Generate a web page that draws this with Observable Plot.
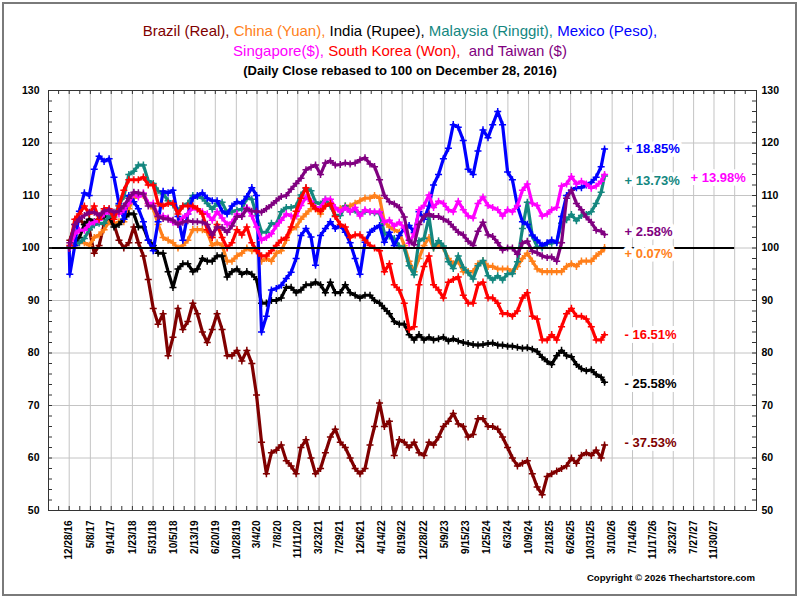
<!DOCTYPE html>
<html>
<head>
<meta charset="utf-8">
<script src="https://cdn.jsdelivr.net/npm/d3@7"></script>
<script src="https://cdn.jsdelivr.net/npm/@observablehq/plot@0.6"></script>
<style>
  body { margin: 0; background: #fff; font-family: "Liberation Sans", Arial, sans-serif; }
  #page { position: relative; width: 800px; height: 600px; overflow: hidden; }
  #border { position: absolute; left: 2px; top: 2px; width: 791px; height: 590px; border: 2px solid #7a7a7a; }
  #title { position: absolute; left: 0; top: 21px; width: 800px; text-align: center; }
  .l1 { font-size: 15px; line-height: 20px; white-space: pre; }
  .l3 { font-size: 13px; line-height: 20px; font-weight: bold; color: #000; }
  #chart { position: absolute; left: 0; top: 80px; }
  #copy { position: absolute; right: 45px; top: 572px; font-size: 9.6px; font-weight: bold; line-height: 12px; color: #000; }
</style>
</head>
<body>
<div id="page">
  <div id="border"></div>
  <div id="title"></div>
  <div id="chart"></div>
  <div id="copy">Copyright © 2026 Thechartstore.com</div>
</div>
<script>
// ---------- data ----------
const dates = ["2016-12-28",
 "2017-01","2017-02","2017-03","2017-04","2017-05","2017-06","2017-07","2017-08","2017-09","2017-10","2017-11","2017-12",
 "2018-01","2018-02","2018-03","2018-04","2018-05","2018-06","2018-07","2018-08","2018-09","2018-10","2018-11","2018-12",
 "2019-01","2019-02","2019-03","2019-04","2019-05","2019-06","2019-07","2019-08","2019-09","2019-10","2019-11","2019-12",
 "2020-01","2020-02","2020-03","2020-04","2020-05","2020-06","2020-07","2020-08","2020-09","2020-10","2020-11","2020-12",
 "2021-01","2021-02","2021-03","2021-04","2021-05","2021-06","2021-07","2021-08","2021-09","2021-10","2021-11","2021-12",
 "2022-01","2022-02","2022-03","2022-04","2022-05","2022-06","2022-07","2022-08","2022-09","2022-10","2022-11","2022-12",
 "2023-01","2023-02","2023-03","2023-04","2023-05","2023-06","2023-07","2023-08","2023-09","2023-10","2023-11","2023-12",
 "2024-01","2024-02","2024-03","2024-04","2024-05","2024-06","2024-07","2024-08","2024-09","2024-10","2024-11","2024-12",
 "2025-01","2025-02","2025-03","2025-04","2025-05","2025-06","2025-07","2025-08","2025-09","2025-10","2025-11","2025-12",
 "2026-01","2026-01-22"];

const brazil = [100,
 101.5,104.5,105.5,104.5,103.5,99,100.5,104.5,105.5,104.5,
 101.5,100,101,104,101,98.5,94,88.5,85.5,87.5,
 79.5,83,88.5,84.5,86,89.5,87.5,84,82,84.5,
 87.5,84.5,79.5,79.5,80.5,78.5,80.5,78,72,63,
 57,61,61.5,62.5,59.5,58.5,57,62,63.5,60,
 57,58,61,64,65.5,63,62,60,58,57,
 58,62.5,66,70.5,66,67,60.5,63.5,63,62,
 63,61,60.5,63,62.5,64,66,67,68.5,66.5,
 66,64,64.5,67.5,67.5,66,66,65.5,64,62,
 60,58.5,59,59.5,57,54.5,53,56.5,57,57.5,
 58,58.5,60,59,60.5,61,60.5,61.5,60,
 62.47];

const china = [100,
 100,101,101,101,100.5,102,102.5,103.5,105,104.5,
 105,105,107.5,109.5,110,110,108.5,107.5,104.5,102,
 101.5,101,100,100.5,101.5,103.5,103.5,103.5,103,100.5,
 101,100.5,97.5,97.5,98.5,99,100,99.5,99.5,97.5,
 98,97.5,99,99.5,101.5,103.5,104,105.5,106.5,107.5,
 107.5,106.5,108,108.5,107.5,107.5,108,108,108.5,109,
 109.5,109.5,110,109.5,105,104,103.5,103,100.5,97.5,
 95.5,98,100.5,102,100,100.5,100,98,97,97.5,
 95.5,95.5,95.5,97,97.5,96.5,96.5,96,96,96,
 95.5,96.5,98,99,97.5,96,95.5,95.5,95.5,95.5,
 95.5,96.5,97,96.5,97.5,97.5,97.5,98.5,99.3,
 100.07];

const india = [100,
 100,100.5,102,104.5,105.5,105,105.5,106,106,104,
 104.5,105.5,106.5,106.5,104,104,101.5,100.5,99,99,
 95.5,92.5,96,97,97,95.5,96,98,97.5,97.5,
 98.5,98.5,94.5,95.5,96,95,95.5,95,94,89.5,
 89.5,90,90,90.5,92.5,92.5,91.5,92,93,93,
 93.5,93,91.5,93.5,91.5,91.5,93,91.5,91,90.5,
 91,91,90,89.5,88.5,87.5,86,85.5,85.5,83.5,
 82.5,83.5,82.5,83,82.5,82.7,83,82.3,82.7,82.3,
 82,81.8,81.6,81.5,81.6,81.8,81.9,81.5,81.5,81.3,
 81.3,81.1,80.9,81,80.7,80.3,79.2,78.4,77.8,79.5,
 80.5,79.5,79.3,77.8,77,76.6,76.8,75.9,75.4,
 74.42];

const malaysia = [100,
 100.3,100.9,101,101.8,103.5,104.4,104.7,104.7,106.2,105.9,
 108.2,109.8,114,114.6,115.8,115.8,112.8,112.3,110.9,110.3,
 109,108.2,107.2,108,108.5,110,109.8,109.5,108.5,107.4,
 108.5,108.7,106.7,106.9,107.2,107.4,109.5,109.3,106.2,103,
 103,104.7,104.5,106.9,107.7,107.7,108,110.1,111.4,110.9,
 108.7,108.4,109.3,108,106.2,106.2,108,106.9,107.2,106.4,
 107,106.9,106.7,106.7,102.8,102.3,101.8,100.4,100,96.6,
 94.9,101.4,101.8,105.9,100,101.4,100.4,97.4,96.1,98.5,
 96.3,95.3,94.1,96.6,97.6,94.7,93.9,94.7,93.9,95.1,
 95.1,97.4,103.7,108.7,102.3,100.2,100,100.9,100.9,101.1,
 104.7,105.4,106.4,105.2,106.2,106.4,106.9,108.5,110.6,
 113.73];

const mexico = [100,
 95,100.5,107,110.5,110,115,117.5,116.5,117,113.5,
 108.5,105.5,110,108.8,107.5,105,101.5,99.5,105,110.8,
 110.5,111,106,101.5,106.5,109.5,110,110.5,109.5,109,
 109,107,106.5,108,108.8,108.5,109.8,111.5,110,84,
 87,92,92.3,92.9,94.2,95.4,98,102.4,103.7,102.1,
 96.7,102.4,103.7,105,103.7,104.3,103,101,98,95,
 101.1,103,103.7,104.3,101.1,103,100.5,102.4,103.7,104.3,
 103,106.9,105.5,108,112,114,117,119,123.5,123,
 120.5,115,114,118.5,122.5,121,123.5,126,123.5,114.5,
 113,108,105,104.5,102.5,101.5,100.5,101,101.5,101,
 106,110,111,111.5,111.5,112,112.5,113.5,115.5,
 118.85];

const singapore = [100,
 100.1,102.7,103.4,103.4,104.5,104.9,105.3,106.5,106.9,106.5,
 106.5,107.3,108.5,110.5,109.7,110.5,108.5,108.5,106.1,106.1,
 105.7,104.9,104.5,105.7,106.5,107.7,107.3,106.9,106.5,105.3,
 106.9,105.7,104.5,104.9,106.5,106.1,107.7,106.1,104,101.5,
 102,102.7,104.2,105.3,106.5,106.1,106.1,108.1,109.7,108.9,
 107.7,107.7,109.3,109.3,107.7,106.9,107.7,106.9,107.7,106.1,
 107.3,106.9,106.9,106.9,104.9,105.3,104.2,104.9,103.8,100.9,
 102.7,107.3,108.1,110.1,107.7,108.9,108.5,107.3,106.9,108.9,
 107.3,106.1,105.7,108.5,109.7,108.1,107.7,107.3,106.1,107.3,
 106.9,108.1,111,112.2,108.5,108.1,106.1,106.5,107.3,107.7,
 111.8,112.2,113.6,112.2,112.7,112.2,111.4,111.8,112.7,
 113.98];

const korea = [100,
 100.5,105.5,106.5,108,106.5,108,105.5,107.5,107.5,105.5,
 108,111,113,113,113,113.5,112,112,108.5,108,
 108.5,108.5,106.5,108,108,108,107.5,106.5,103.5,102,
 104.5,102,100,101,103.5,102.5,104,101,99.5,98.5,
 98.5,99.5,100.5,101.5,102,104,107,109.5,111.5,108.5,
 107.5,107,108,108.5,106,104.5,104,102,102.5,102.5,
 101.5,100.5,100,99.5,95.5,97,93,92,89.5,84.5,
 85,93,96.5,98.5,93,92,90.5,93.5,94,94.5,
 91,89.5,89.5,93,93.5,90.5,90.5,89.5,87.5,87.5,
 87,88,90.5,91.5,87,86.5,82.5,82.5,83.5,82.5,
 85,87.5,88.5,87,87,86.5,85,82.5,82.5,
 83.49];

const taiwan = [100,
 101,104.5,105.5,106.2,106.8,106.8,106.2,107,107.3,106.8,
 107,108,109.5,110.6,110.5,110.3,108,108,106,105.6,
 105.5,105.3,104.5,104.9,105.2,105,105,104.9,104.5,102.5,
 104,103.9,103,104.2,106,106,107.5,107,107,106.8,
 107.5,108.2,109,109.8,110,111.2,112.3,113.3,114.9,115.4,
 115.8,114,116.2,116.6,115.8,115.9,116.2,116,116.2,116.8,
 117.2,116,115.5,113,110,108.8,108.4,107.7,105.9,101.5,
 100.6,104.5,106,106.5,106,106,105.5,105,104,103,
 102.5,101.3,100.5,103.2,104.9,102.5,102.2,101,99.6,100,
 100,98.8,100.9,101.3,99.4,99.1,98.5,98.2,98.3,97.5,
 101,109.5,111,108.5,107.3,105.9,104.9,103.4,103.2,
 102.58];

const names  = ["Brazil", "China", "India", "Malaysia", "Mexico", "Singapore", "South Korea", "Taiwan"];
const values = [brazil, china, india, malaysia, mexico, singapore, korea, taiwan];
const endLabels = ["- 37.53%", "+ 0.07%", "- 25.58%", "+ 13.73%", "+ 18.85%", "+ 13.98%", "- 16.51%", "+ 2.58%"];
const titleLine1 = ["Brazil (Real),", "China (Yuan),", "India (Rupee),", "Malaysia (Ringgit),", "Mexico (Peso),"];
const titleLine2 = ["Singapore($),", "South Korea (Won),", " and Taiwan ($)"];
const subtitle = "(Daily Close rebased to 100 on December 28, 2016)";

const yTicks = [50, 60, 70, 80, 90, 100, 110, 120, 130];
const baseline = 100;
const labelDates = ["2016-12-28","2017-05-08","2017-09-14","2018-01-23","2018-05-31","2018-10-05","2019-02-13","2019-06-20",
 "2019-10-28","2020-03-04","2020-07-08","2020-11-11","2021-03-23","2021-07-29","2021-12-06","2022-04-14","2022-08-19",
 "2022-12-28","2023-05-09","2023-09-15","2024-01-25","2024-06-03","2024-10-09","2025-02-18","2025-06-26","2025-10-31",
 "2026-03-10","2026-07-14","2026-11-17","2027-03-23","2027-07-27","2027-11-30"];
const extraGrid = ["2028-04-06"];
const xDomainDates = ["2016-08-22", "2028-08-19"];

// ---------- styles ----------
const colors = ["#800000", "#FF7F1A", "#000000", "#14877F", "#0000FF", "#FF00FF", "#FF0000", "#800080"];
const nudges = [[20, -2], [20, 6], [20, 2], [20, 5], [20, 0], [86, 3], [20, 0], [20, -3]];

// ---------- build ----------
const parse = s => new Date(s);
const dateObjs = dates.map(parse);
const gridDates = labelDates.concat(extraGrid).map(parse);
const xDomain = xDomainDates.map(parse);
const halfTicks = [];
for (let i = 0; i < gridDates.length - 1; i++) {
  halfTicks.push(new Date((+gridDates[i] + +gridDates[i + 1]) / 2));
}
halfTicks.unshift(new Date(+gridDates[0] - (+gridDates[1] - +gridDates[0]) / 2));
halfTicks.push(new Date(+gridDates[gridDates.length - 1] + (+gridDates[1] - +gridDates[0]) / 2));
const xTickAll = gridDates.concat(halfTicks);
const yMinor = d3.range(yTicks[0], yTicks[yTicks.length - 1] + 1, 2);

const W = 800, H = 500, mT = 10, mB = 70, mL = 48, mR = 44;
const innerW = W - mL - mR, innerH = H - mT - mB;
const fmt = d3.utcFormat("%-m/%-d/%y");

const seriesMarks = names.flatMap((name, i) => {
  const rows = dateObjs.map((d, j) => ({date: d, value: values[i][j]}));
  return [
    Plot.line(rows, {x: "date", y: "value", stroke: colors[i], strokeWidth: 3.2, strokeLinejoin: "round"}),
    Plot.dot(rows, {x: "date", y: "value", stroke: colors[i], symbol: "plus", r: 2.4, strokeWidth: 1.5})
  ];
});

const labelMarks = names.map((name, i) => {
  const last = [{date: dateObjs[dateObjs.length - 1], value: values[i][values[i].length - 1], label: endLabels[i]}];
  return Plot.text(last, {x: "date", y: "value", text: "label", fill: colors[i], textAnchor: "start",
    dx: nudges[i][0], dy: nudges[i][1], fontSize: 13, fontWeight: "bold", stroke: "white", strokeWidth: 8});
});

const chart = Plot.plot({
  width: W, height: H,
  marginTop: mT, marginBottom: mB, marginLeft: mL, marginRight: mR,
  style: {fontFamily: "'Liberation Sans', Arial, sans-serif", background: "transparent", color: "#000", overflow: "visible"},
  x: {type: "utc", domain: xDomain, label: null},
  y: {domain: [yTicks[0], yTicks[yTicks.length - 1]], label: null},
  marks: [
    Plot.gridY({ticks: yTicks, stroke: "#c4c4c4", strokeOpacity: 1}),
    Plot.gridX({ticks: gridDates, stroke: "#c4c4c4", strokeOpacity: 1}),
    ...seriesMarks,
    Plot.ruleY([baseline], {x1: xDomain[0], x2: gridDates[gridDates.length - 1], stroke: "#000", strokeWidth: 2}),
    // inward ticks
    Plot.tickY(yMinor, {y: d => d, insetRight: innerW - 4, stroke: "#333"}),
    Plot.tickY(yMinor, {y: d => d, insetLeft: innerW - 4, stroke: "#333"}),
    Plot.tickX(xTickAll, {x: d => d, insetTop: innerH - 4, stroke: "#333"}),
    Plot.tickX(xTickAll, {x: d => d, insetBottom: innerH - 4, stroke: "#333"}),
    Plot.frame({stroke: "#333"}),
    Plot.axisY({ticks: yTicks, anchor: "left", tickSize: 0, tickPadding: 9, fontSize: 10.5, fontWeight: "bold", tickFormat: d3.format("d")}),
    Plot.axisY({ticks: yTicks, anchor: "right", tickSize: 0, tickPadding: 5, fontSize: 10.5, fontWeight: "bold", tickFormat: d3.format("d")}),
    Plot.axisX({ticks: labelDates.map(parse), anchor: "bottom", tickSize: 0, tickPadding: 10, tickRotate: -90, fontSize: 10, fontWeight: "bold", tickFormat: fmt}),
    ...labelMarks
  ]
});
document.getElementById("chart").appendChild(chart);

// ---------- title ----------
const title = document.getElementById("title");
const l1 = document.createElement("div"); l1.className = "l1";
titleLine1.forEach((t, i) => {
  const s = document.createElement("span"); s.textContent = t; s.style.color = colors[i];
  l1.appendChild(s); if (i < titleLine1.length - 1) l1.appendChild(document.createTextNode(" "));
});
const l2 = document.createElement("div"); l2.className = "l1";
titleLine2.forEach((t, i) => {
  const s = document.createElement("span"); s.textContent = t; s.style.color = colors[5 + i];
  l2.appendChild(s); if (i < titleLine2.length - 1) l2.appendChild(document.createTextNode(" "));
});
const l3 = document.createElement("div"); l3.className = "l3"; l3.textContent = subtitle;
title.append(l1, l2, l3);
</script>
</body>
</html>
